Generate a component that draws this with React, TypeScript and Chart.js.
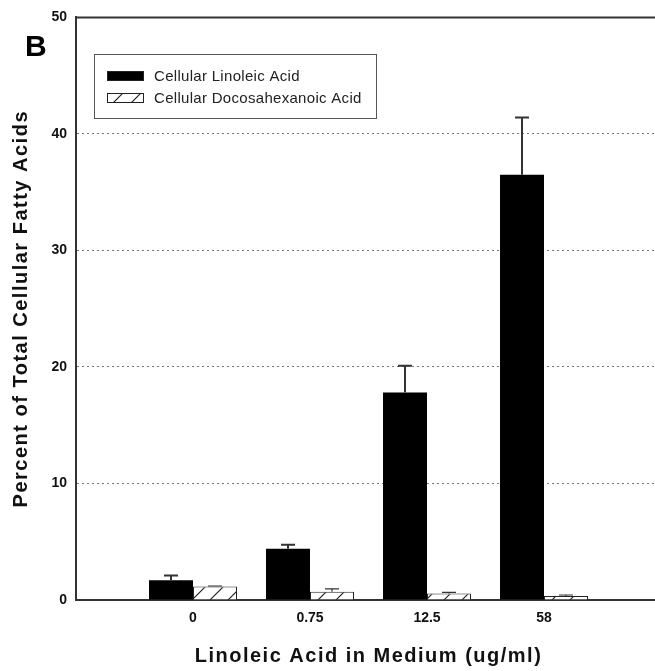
import React, { useEffect, useRef } from 'react';
import { Chart, registerables } from 'chart.js';

Chart.register(...registerables);

// Linoleic acid concentration in the medium (ug/ml)
const categories = ['0', '0.75', '12.5', '58'];
// Cellular linoleic acid (% of total fatty acids), mean and upper error
const linoleic = [1.7, 4.4, 17.8, 36.5];
const linoleicErr = [0.4, 0.35, 2.3, 4.9];
// Cellular docosahexanoic acid (% of total fatty acids), mean and upper error
const dha = [1.15, 0.7, 0.55, 0.35];
const dhaErr = [0.05, 0.25, 0.1, 0.08];

const seriesNames = ['Cellular Linoleic Acid', 'Cellular Docosahexanoic Acid'];
const yMin = 0;
const yMax = 50;
const yStep = 10;
const xTitle = 'Linoleic Acid in Medium (ug/ml)';
const yTitle = 'Percent of Total Cellular Fatty Acids';
const panelLetter = 'B';

const FONT = '"Liberation Sans", Arial, Helvetica, sans-serif';
// the plot area runs a little past the visible right edge
const CANVAS_W = 671;
const CANVAS_H = 671;

// empty slot on each side of the groups so the axis runs past the bars
const pad = <T,>(arr: T[]) => [null, ...arr, null];

function makeHatch(): CanvasPattern | string {
  const c = document.createElement('canvas');
  c.width = 18;
  c.height = 18;
  const g = c.getContext('2d');
  if (!g) return '#fff';
  g.fillStyle = '#fff';
  g.fillRect(0, 0, 18, 18);
  g.strokeStyle = '#222';
  g.lineWidth = 1.2;
  g.beginPath();
  g.moveTo(0, 18);
  g.lineTo(18, 0);
  g.moveTo(-9, 9);
  g.lineTo(9, -9);
  g.moveTo(9, 27);
  g.lineTo(27, 9);
  g.stroke();
  return g.createPattern(c, 'repeat') || '#fff';
}

const errorBars = {
  id: 'errorBars',
  afterDatasetsDraw(chart: any) {
    const ctx = chart.ctx;
    const y = chart.scales.y;
    chart.data.datasets.forEach((ds: any, di: number) => {
      const meta = chart.getDatasetMeta(di);
      meta.data.forEach((el: any, i: number) => {
        const v = ds.data[i];
        const e = ds.errors[i];
        if (v == null || e == null) return;
        const x = el.x;
        const y0 = y.getPixelForValue(v);
        const y1 = y.getPixelForValue(v + e);
        ctx.save();
        ctx.strokeStyle = '#333';
        ctx.lineWidth = di === 0 ? 2 : 1.2;
        ctx.beginPath();
        ctx.moveTo(x, y0);
        ctx.lineTo(x, y1);
        ctx.moveTo(x - 7, y1);
        ctx.lineTo(x + 7, y1);
        ctx.stroke();
        ctx.restore();
      });
    });
  },
};

const decorations = {
  id: 'decorations',
  beforeDatasetsDraw(chart: any) {
    const { ctx, chartArea, width } = chart;
    // top frame line
    ctx.save();
    ctx.strokeStyle = '#333';
    ctx.lineWidth = 2;
    ctx.beginPath();
    ctx.moveTo(chartArea.left - 1, chartArea.top);
    ctx.lineTo(width, chartArea.top);
    ctx.stroke();
    ctx.restore();
  },
  afterDraw(chart: any) {
    const { ctx, chartArea } = chart;
    ctx.save();

    // panel letter
    ctx.fillStyle = '#000';
    ctx.font = `bold 30px ${FONT}`;
    ctx.textAlign = 'left';
    ctx.textBaseline = 'alphabetic';
    ctx.fillText(panelLetter, 25, 56);

    // axis titles
    ctx.fillStyle = '#111';
    ctx.font = `bold 20px ${FONT}`;
    (ctx as any).letterSpacing = '1.5px';
    ctx.textAlign = 'center';
    ctx.fillText(xTitle, (chartArea.left + chartArea.right) / 2, 662);
    ctx.save();
    ctx.translate(27, (chartArea.top + chartArea.bottom) / 2);
    ctx.rotate(-Math.PI / 2);
    ctx.fillText(yTitle, 0, 0);
    ctx.restore();

    // legend box
    const bx = 94.5, by = 54.5, bw = 282, bh = 64;
    ctx.fillStyle = '#fff';
    ctx.fillRect(bx, by, bw, bh);
    ctx.strokeStyle = '#555';
    ctx.lineWidth = 1;
    ctx.strokeRect(bx, by, bw, bh);

    const rows = [76, 98];
    chart.data.datasets.forEach((ds: any, i: number) => {
      const cy = rows[i];
      ctx.fillStyle = ds.backgroundColor;
      ctx.fillRect(107, cy - 5, 37, 10);
      ctx.strokeStyle = '#222';
      ctx.lineWidth = 1;
      ctx.strokeRect(107.5, cy - 4.5, 36, 9);
      ctx.fillStyle = '#222';
      ctx.font = `15px ${FONT}`;
      (ctx as any).letterSpacing = '0.3px';
      ctx.textAlign = 'left';
      ctx.textBaseline = 'middle';
      ctx.fillText(ds.label, 154, cy + 0.5);
    });
    ctx.restore();
  },
};

export default function App() {
  const ref = useRef<HTMLCanvasElement | null>(null);

  useEffect(() => {
    if (!ref.current) return;
    const hatch = makeHatch();
    const tickFont = { family: FONT, size: 14, weight: 'bold' as const };
    const chart = new Chart(ref.current, {
      type: 'bar',
      data: {
        labels: ['', ...categories, ''],
        datasets: [
          {
            label: seriesNames[0],
            data: pad(linoleic),
            errors: pad(linoleicErr),
            backgroundColor: '#000',
            borderColor: '#000',
            borderWidth: 0,
          } as any,
          {
            label: seriesNames[1],
            data: pad(dha),
            errors: pad(dhaErr),
            backgroundColor: hatch,
            borderColor: '#222',
            borderWidth: 1,
          } as any,
        ],
      },
      options: {
        responsive: false,
        maintainAspectRatio: false,
        animation: false,
        layout: { padding: { top: 17, right: 0, left: 0, bottom: 0 } },
        datasets: { bar: { categoryPercentage: 0.752, barPercentage: 1 } },
        plugins: { legend: { display: false }, tooltip: { enabled: false } },
        scales: {
          x: {
            type: 'category',
            offset: false,
            grid: { display: false, drawTicks: false },
            border: { display: true, color: '#333', width: 2 },
            ticks: { color: '#111', font: tickFont, padding: 10, autoSkip: false, maxRotation: 0 },
            afterFit: (s: any) => {
              s.height = 71;
            },
          },
          y: {
            min: yMin,
            max: yMax,
            ticks: { stepSize: yStep, color: '#111', font: tickFont, padding: 9 },
            grid: {
              drawTicks: false,
              lineWidth: 1,
              color: (c: any) =>
                c.tick && (c.tick.value === yMin || c.tick.value === yMax) ? 'rgba(0,0,0,0)' : '#777',
            },
            border: { display: true, color: '#333', width: 2, dash: [2, 3] },
            afterFit: (s: any) => {
              s.width = 76;
            },
          },
        },
      } as any,
      plugins: [errorBars, decorations],
    });
    return () => chart.destroy();
  }, []);

  return (
    <div
      style={{
        position: 'fixed',
        left: 0,
        top: 0,
        width: 655,
        height: 671,
        overflow: 'hidden',
        background: '#fff',
      }}
    >
      <div style={{ position: 'absolute', left: 0, top: 0, width: CANVAS_W, height: CANVAS_H }}>
        <canvas
          ref={ref}
          width={CANVAS_W}
          height={CANVAS_H}
          style={{ display: 'block', width: CANVAS_W, height: CANVAS_H }}
        />
      </div>
    </div>
  );
}
